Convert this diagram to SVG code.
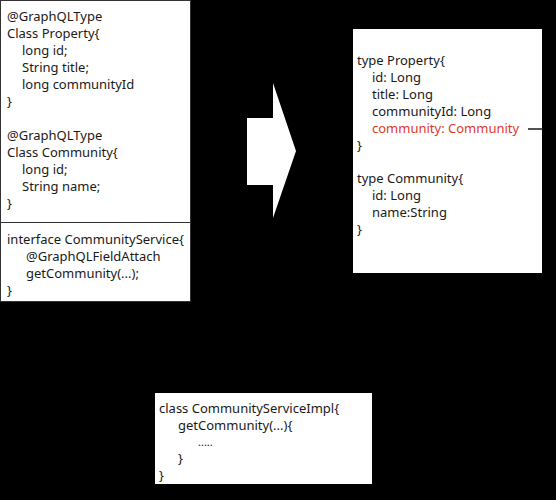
<svg xmlns="http://www.w3.org/2000/svg" width="556" height="500" viewBox="0 0 556 500">
<style>
text{font-family:"Noto Sans","Open Sans","Liberation Sans",sans-serif;font-size:13px;fill:#1a1a1a}
.box{fill:#fff;stroke:#333;stroke-width:1}
.red{fill:#e0392b}
.dots{font-size:11px}
</style>
<rect x="0" y="0" width="556" height="500" fill="#000"/>
<g id="java-classes">
<rect class="box" x="0.5" y="0.5" width="190" height="301"/>
<line x1="0.5" y1="222.5" x2="190.5" y2="222.5" stroke="#333"/>
<text x="7" y="21">@GraphQLType</text>
<text x="7" y="38">Class Property{</text>
<text x="22" y="55">long id;</text>
<text x="22" y="72">String title;</text>
<text x="22" y="89">long communityId</text>
<text x="7" y="106">}</text>
<text x="7" y="140">@GraphQLType</text>
<text x="7" y="157">Class Community{</text>
<text x="22" y="174">long id;</text>
<text x="22" y="191">String name;</text>
<text x="7" y="208">}</text>
<text x="7" y="244">interface CommunityService{</text>
<text x="26" y="261">@GraphQLFieldAttach</text>
<text x="26" y="278">getCommunity(...);</text>
<text x="7" y="295">}</text>
</g>
<g id="arrow">
<polygon points="247,118 273,118 273,83 296,151 273,218 273,185 247,185" fill="#fff"/>
</g>
<g id="graphql-schema">
<rect x="353" y="29" width="189" height="244" fill="#fff"/>
<text x="357" y="65">type Property{</text>
<text x="372" y="82">id: Long</text>
<text x="372" y="99">title: Long</text>
<text x="372" y="116">communityId: Long</text>
<text class="red" x="372" y="133">community: Community</text>
<text x="357" y="150">}</text>
<text x="357" y="183">type Community{</text>
<text x="372" y="200">id: Long</text>
<text x="372" y="217">name:String</text>
<text x="357" y="234">}</text>
</g>
<g id="service-impl">
<rect x="155" y="393" width="217" height="91" fill="#fff"/>
<text x="159" y="413">class CommunityServiceImpl{</text>
<text x="178" y="430">getCommunity(...){</text>
<text class="dots" x="198" y="446">.....</text>
<text x="178" y="463">}</text>
<text x="159" y="480">}</text>
</g>
<g id="connectors">
<line x1="528" y1="129" x2="543" y2="129" stroke="#1a1a1a" stroke-width="1.5"/>
</g>
</svg>
